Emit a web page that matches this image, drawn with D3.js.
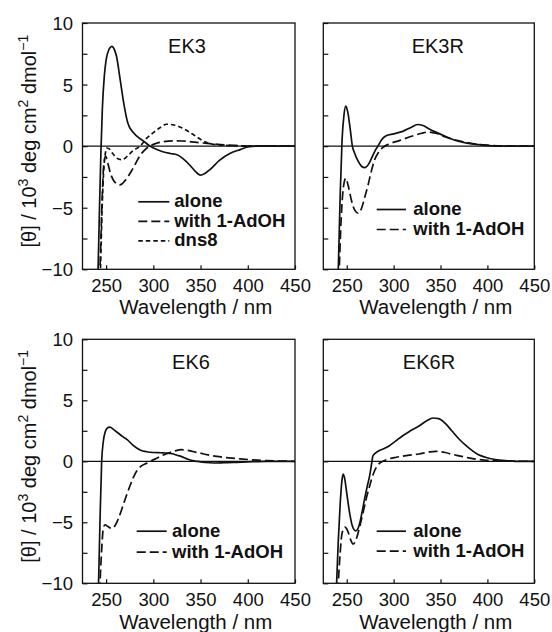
<!DOCTYPE html>
<html>
<head>
<meta charset="utf-8">
<style>
  body { margin: 0; background: #fff; }
  svg text { font-family: "Liberation Sans", Arial, Helvetica, sans-serif; fill: #111; }
  .frame { fill: none; stroke: #111; stroke-width: 1.3px; }
  .zero { stroke: #111; stroke-width: 1.3px; }
  .curve { fill: none; stroke: #111; stroke-width: 1.7px; }
  .axis path { display: none; }
  .axis line { stroke: #111; stroke-width: 1.2px; }
  .axis text { font-size: 18.5px; }
  .legend text { font-size: 18.5px; font-weight: bold; }
</style>
</head>
<body>
<div id="chart"></div>
<script src="https://cdn.jsdelivr.net/npm/d3@7/dist/d3.min.js"></script>
<script>
// axis values
const wavelengthDomain = [225, 450];
const thetaDomain = [-10, 10];
const wavelengthTicks = [250, 300, 350, 400, 450];
const thetaTicks = [-10, -7.5, -5, -2.5, 0, 2.5, 5, 7.5, 10];
const thetaLabels = [-10, -5, 0, 5, 10];

// CD spectra, [wavelength nm, theta / 10^3]
const ek3Alone = [[238,-16],[241.5,-10],[243,-5],[244.5,-0.5],[246,3],[248,5.6],[250,7.0],[253,7.85],[256,8.1],[259,7.8],[261,7.3],[264.7,5.5],[268,3.8],[272.9,1.9],[278.8,1.1],[289.4,0.43],[296.5,0],[303,-0.25],[310,-0.45],[318,-0.6],[325,-0.7],[335,-1.25],[344,-2.0],[349.5,-2.36],[355,-2.2],[360,-1.9],[370,-1.15],[381,-0.6],[392,-0.28],[400,-0.07],[410,0],[450,0]];
const ek3AdOH = [[240,-16],[243.5,-10],[245.5,-5],[247.5,-1.5],[249.5,-0.8],[251.5,-1.3],[255,-2.3],[259,-2.9],[264.7,-3.15],[270,-2.8],[277,-2.0],[282,-1.3],[286,-0.75],[291,-0.3],[296,0],[302,0.2],[310,0.35],[320,0.43],[330,0.42],[346,0.3],[360,0.2],[375,0.1],[390,0.04],[405,0],[450,0]];
const ek3Dns8 = [[241.5,-16],[244,-10],[246,-4.5],[248.5,-1],[251,-0.15],[253,-0.2],[257,-0.6],[262,-1.0],[267,-1.1],[272,-0.85],[278,-0.4],[286,0],[293,0.65],[300,1.1],[307,1.5],[314,1.78],[322,1.72],[330,1.5],[338,1.15],[345,0.8],[352,0.45],[358,0.25],[366,0.12],[380,0.05],[400,0.02],[415,0],[450,0]];

const ek3rAlone = [[238,-16],[241,-10],[243,-4],[245,0.5],[247,2.5],[249,3.25],[251,2.8],[254,1.2],[256,0],[258,-0.5],[262,-1.2],[266,-1.65],[269.3,-1.75],[273,-1.5],[277,-0.9],[280,-0.4],[283.3,0],[287,0.5],[292,0.84],[300,1.0],[309.7,1.2],[318,1.5],[325.6,1.76],[332,1.65],[338,1.4],[345,1.14],[355,0.8],[366,0.46],[378,0.25],[391,0.12],[405,0.03],[420,0],[450,0]];
const ek3rAdOH = [[239,-16],[242,-10],[244,-6],[246.5,-3.3],[249,-2.6],[251.5,-3.2],[255,-4.4],[258.5,-5.2],[262.3,-5.45],[266,-5.0],[269,-4.2],[272.6,-3.2],[276,-2.1],[279.7,-1.1],[284,-0.5],[288.6,-0.1],[296,0.2],[306,0.45],[320,0.82],[330,1.05],[337,1.15],[345,1.05],[356,0.72],[366,0.5],[377,0.32],[390,0.15],[400,0.08],[415,0.02],[450,0]];

const ek6Alone = [[238,-16],[242,-10],[243.5,-5],[245.3,0],[247,1.6],[249,2.4],[251,2.7],[254,2.8],[258,2.6],[263,2.3],[268,2.0],[272,1.8],[278,1.35],[286,0.93],[293,0.78],[300,0.72],[308,0.7],[314,0.68],[320,0.62],[325,0.5],[330,0.38],[335,0.22],[340,0.08],[346,0],[355,-0.1],[364,-0.14],[375,-0.12],[385,-0.1],[400,-0.05],[420,0],[450,0]];
const ek6AdOH = [[240,-16],[243.5,-10],[245.5,-7],[247,-5.5],[249,-5.2],[252,-5.35],[256,-5.5],[260,-5.2],[264,-4.5],[268,-3.6],[272,-2.7],[275.3,-2.0],[279,-1.3],[282.4,-0.8],[287,-0.4],[293,-0.15],[298,0.05],[303.6,0.25],[310,0.5],[317.7,0.72],[324,0.88],[330,0.95],[336,0.9],[342,0.8],[349,0.68],[358,0.52],[367,0.4],[380,0.28],[392,0.2],[405,0.12],[420,0.05],[435,0.02],[450,0]];

const ek6rAlone = [[236,-16],[239.2,-10],[241,-6.5],[243,-3.5],[245,-1.5],[246.2,-1.04],[247.5,-1.3],[250,-2.6],[253,-4.2],[256,-5.3],[259.6,-5.7],[263,-5.3],[266,-4.3],[269,-3.1],[272,-2.0],[274.4,-1.2],[276.5,-0.2],[278,0.46],[283,0.8],[290,1.05],[295.6,1.28],[302,1.65],[309.7,2.1],[318,2.5],[327.4,2.92],[335,3.3],[342,3.55],[348,3.5],[355.6,3.06],[362,2.5],[369.7,1.83],[377,1.3],[383.8,0.87],[390,0.55],[397.9,0.33],[408,0.15],[419,0.05],[430,0],[450,0]];
const ek6rAdOH = [[238,-16],[241,-10],[243,-7.5],[245,-5.9],[248,-5.4],[251,-5.7],[254,-6.4],[256.8,-6.78],[260,-6.4],[264,-5.3],[267.4,-4.2],[271,-3.0],[274.5,-2.0],[278,-1.1],[281.5,-0.5],[285,-0.15],[288.5,0],[295,0.2],[302.7,0.33],[315,0.48],[327,0.6],[337,0.75],[345,0.82],[355,0.72],[362,0.58],[369.7,0.45],[380,0.28],[390,0.15],[400,0.08],[415,0.02],[450,0]];

const dashes = { solid: null, long: '9,4', short: '4.5,3' };

const panels = [
  { title: 'EK3', left: 82.5, top: 23, w: 212.5, h: 246.3, labels: true, titleX: 104.5, xTitleOff: 45,
    legend: { x0: 55.8, x1: 86.8, tx: 91.8, y: 184.3, gap: 19.5 },
    series: [{ name: 'alone', data: ek3Alone, dash: 'solid' },
             { name: 'with 1-AdOH', data: ek3AdOH, dash: 'long' },
             { name: 'dns8', data: ek3Dns8, dash: 'short' }] },
  { title: 'EK3R', left: 323.3, top: 23, w: 211, h: 246.3, labels: false, titleX: 114.5, xTitleOff: 45,
    legend: { x0: 53.4, x1: 82.7, tx: 90, y: 192, gap: 20 },
    series: [{ name: 'alone', data: ek3rAlone, dash: 'solid' },
             { name: 'with 1-AdOH', data: ek3rAdOH, dash: 'long' }] },
  { title: 'EK6', left: 82.5, top: 339.3, w: 212.5, h: 244, labels: true, titleX: 108.5, xTitleOff: 45.5,
    legend: { x0: 54.2, x1: 84.2, tx: 89.5, y: 197.4, gap: 21 },
    series: [{ name: 'alone', data: ek6Alone, dash: 'solid' },
             { name: 'with 1-AdOH', data: ek6AdOH, dash: 'long' }] },
  { title: 'EK6R', left: 323.3, top: 339.3, w: 211, h: 244, labels: false, titleX: 105.7, xTitleOff: 45.5,
    legend: { x0: 53.4, x1: 82.7, tx: 90, y: 197.4, gap: 20 },
    series: [{ name: 'alone', data: ek6rAlone, dash: 'solid' },
             { name: 'with 1-AdOH', data: ek6rAdOH, dash: 'long' }] }
];

const svg = d3.select('#chart').append('svg')
    .attr('width', 552)
    .attr('height', 632);

panels.forEach((p, i) => {
  const x = d3.scaleLinear().domain(wavelengthDomain).range([0, p.w]);
  const y = d3.scaleLinear().domain(thetaDomain).range([p.h, 0]);

  const g = svg.append('g').attr('transform', `translate(${p.left},${p.top})`);

  g.append('clipPath').attr('id', `clip${i}`)
    .append('rect').attr('width', p.w).attr('height', p.h);

  // ticks point inward
  g.append('g').attr('class', 'axis')
      .attr('transform', `translate(0,${p.h})`)
      .call(d3.axisBottom(x).tickValues(wavelengthTicks)
        .tickSizeInner(-4).tickSizeOuter(0).tickPadding(9.5));

  g.append('g').attr('class', 'axis')
      .call(d3.axisLeft(y).tickValues(thetaTicks)
        .tickSizeInner(-5).tickSizeOuter(0).tickPadding(9.5)
        .tickFormat(d => p.labels && thetaLabels.includes(d) ? d3.format('d')(d) : ''))
    .selectAll('text').attr('dy', '0.36em');

  g.append('line').attr('class', 'zero')
      .attr('x1', 0).attr('x2', p.w)
      .attr('y1', y(0)).attr('y2', y(0));

  const line = d3.line()
      .x(d => x(d[0]))
      .y(d => y(d[1]))
      .curve(d3.curveMonotoneX);

  g.append('g').attr('clip-path', `url(#clip${i})`)
    .selectAll('path')
    .data(p.series)
    .join('path')
      .attr('class', 'curve')
      .attr('stroke-dasharray', d => dashes[d.dash])
      .attr('d', d => line(d.data));

  g.append('rect').attr('class', 'frame')
      .attr('width', p.w).attr('height', p.h);

  g.append('text')
      .attr('x', p.titleX).attr('y', 29.7)
      .attr('text-anchor', 'middle')
      .style('font-size', '20px')
      .text(p.title);

  const leg = g.append('g').attr('class', 'legend')
    .selectAll('g')
    .data(p.series)
    .join('g')
      .attr('transform', (d, k) => `translate(0,${p.legend.y + k * p.legend.gap})`);
  leg.append('line')
      .attr('x1', p.legend.x0).attr('x2', p.legend.x1)
      .attr('y1', -5.5).attr('y2', -5.5)
      .attr('stroke', '#111').attr('stroke-width', 1.7)
      .attr('stroke-dasharray', d => dashes[d.dash]);
  leg.append('text')
      .attr('x', p.legend.tx)
      .text(d => d.name);

  g.append('text')
      .attr('x', p.w / 2 + 7).attr('y', p.h + p.xTitleOff)
      .attr('text-anchor', 'middle')
      .style('font-size', '20.5px')
      .text('Wavelength / nm');

  if (p.labels) {
    const t = g.append('text')
        .attr('transform', `translate(${36 - p.left},${p.h / 2 - 5}) rotate(-90)`)
        .attr('text-anchor', 'middle')
        .style('font-size', '20px');
    t.append('tspan').text('[θ] / 10');
    t.append('tspan').attr('dy', -8).style('font-size', '14px').text('3');
    t.append('tspan').attr('dy', 8).text(' deg cm');
    t.append('tspan').attr('dy', -8).style('font-size', '14px').text('2');
    t.append('tspan').attr('dy', 8).text(' dmol');
    t.append('tspan').attr('dy', -8).style('font-size', '14px').text('−1');
  }
});
</script>
</body>
</html>
